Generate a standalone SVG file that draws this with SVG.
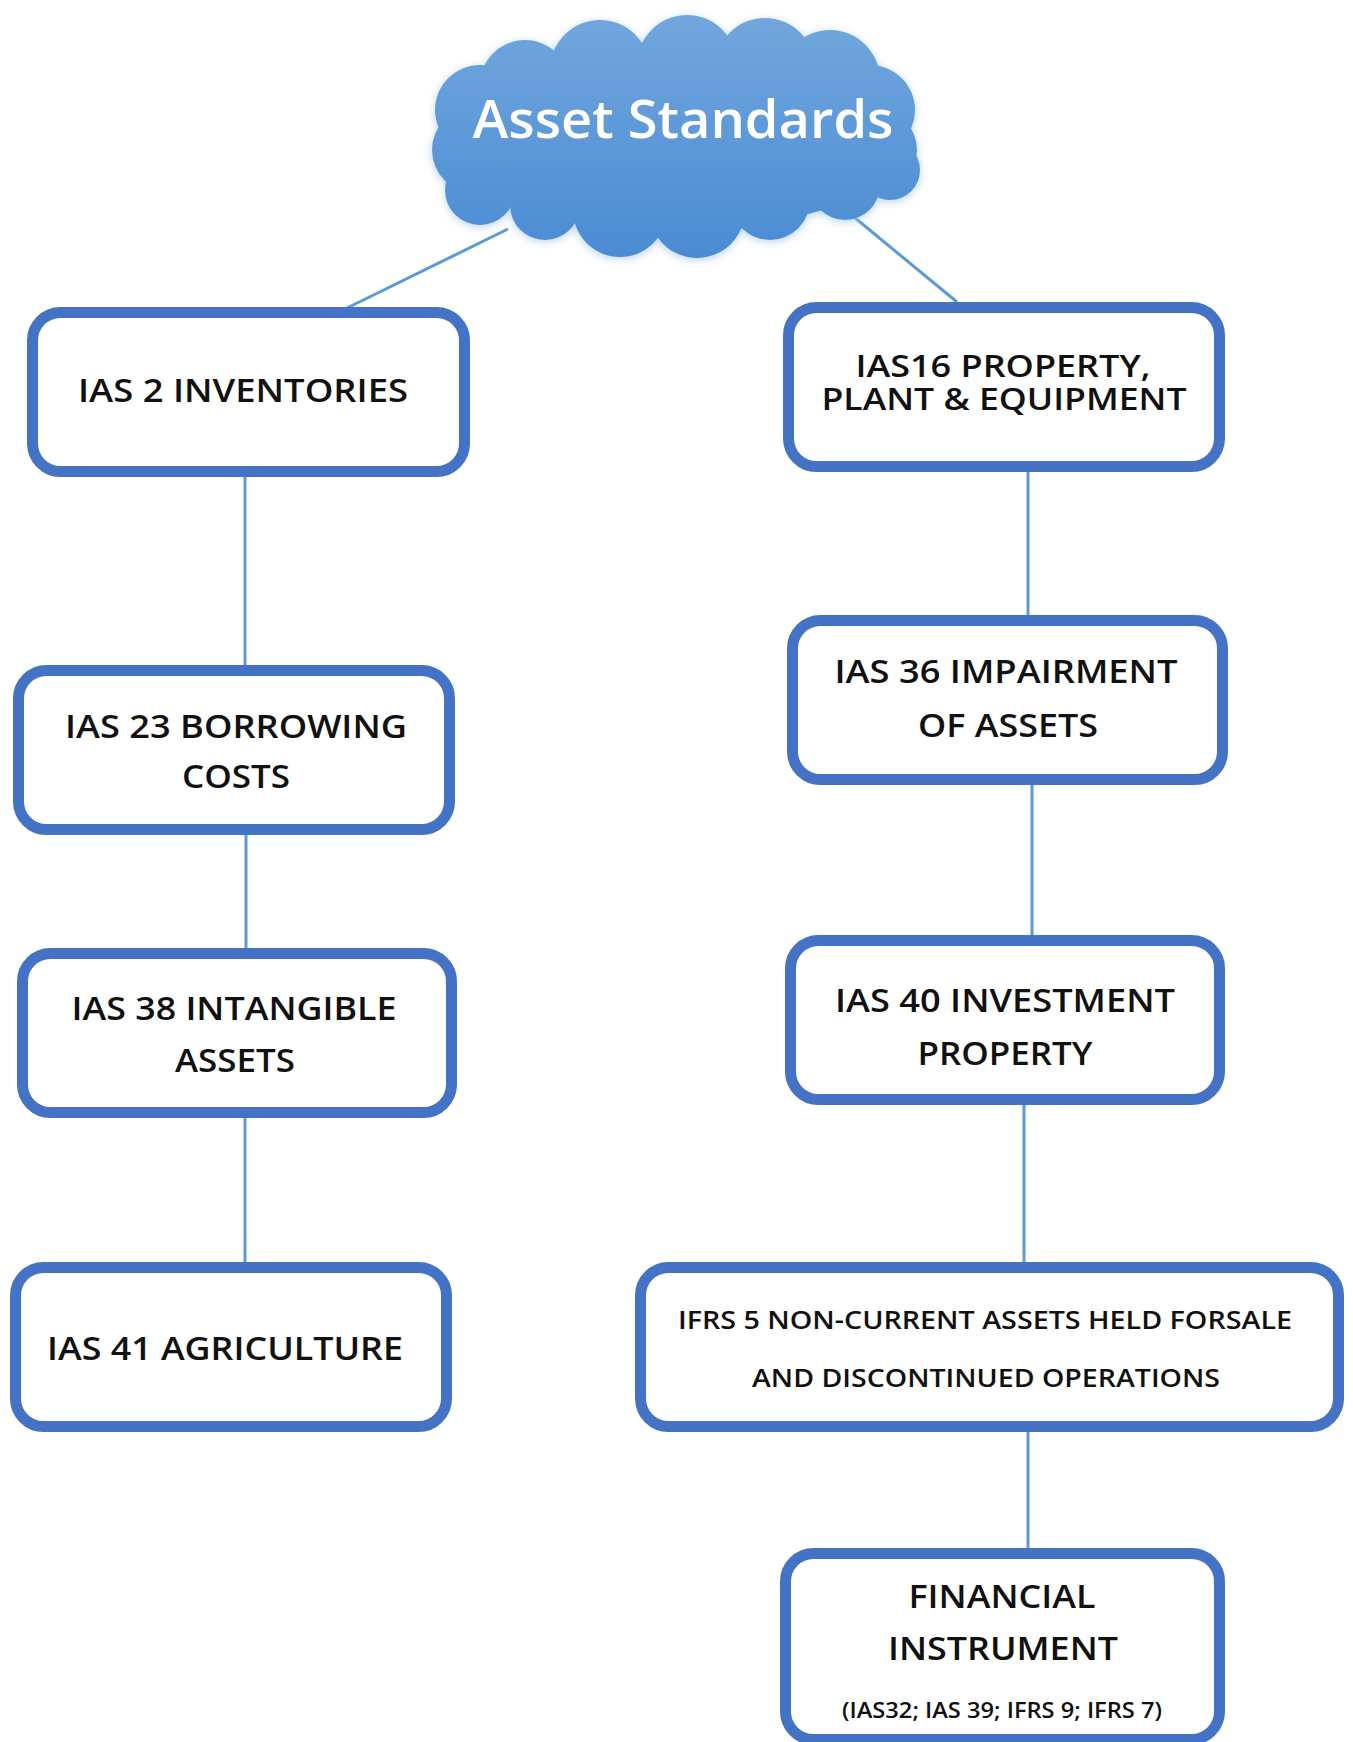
<svg xmlns="http://www.w3.org/2000/svg" width="1353" height="1742" viewBox="0 0 1353 1742">
<style>
.box{fill:#ffffff;stroke:#4472c4;stroke-width:11}
.lbl{font-family:"Open Sans","Liberation Sans",sans-serif;font-weight:600;font-size:33px;fill:#111111;text-anchor:middle}
.tight{font-size:30px}
.sm{font-size:25px}
.xs{font-size:21px}
.con{stroke:#5b9bd5;stroke-width:3;fill:none}
.title{font-family:"Open Sans","Liberation Sans",sans-serif;font-weight:600;font-size:52px;fill:#ffffff;text-anchor:middle}
</style>
<defs>
<linearGradient id="cg" x1="0" y1="14" x2="0" y2="260" gradientUnits="userSpaceOnUse">
<stop offset="0" stop-color="#72a7dd"/>
<stop offset="1" stop-color="#4a8bd3"/>
</linearGradient>
<filter id="glow" x="-10%" y="-10%" width="120%" height="120%">
<feDropShadow dx="0" dy="2" stdDeviation="4" flood-color="#a9c9ec" flood-opacity="0.8"/>
</filter>
</defs>
<rect width="1353" height="1742" fill="#ffffff"/>
<g id="connectors">
<line class="con" x1="508" y1="229" x2="347" y2="308"/>
<line class="con" x1="843" y1="208" x2="957" y2="302"/>
<line class="con" x1="245" y1="477" x2="245" y2="665"/>
<line class="con" x1="246" y1="835" x2="246" y2="948"/>
<line class="con" x1="245" y1="1118" x2="245" y2="1262"/>
<line class="con" x1="1028" y1="472" x2="1028" y2="615"/>
<line class="con" x1="1032" y1="785" x2="1032" y2="935"/>
<line class="con" x1="1024" y1="1105" x2="1024" y2="1262"/>
<line class="con" x1="1028" y1="1432" x2="1028" y2="1548"/>
</g>
<g id="cloud" filter="url(#glow)">
<g fill="url(#cg)">
<ellipse cx="675" cy="140" rx="235" ry="90"/>
<circle cx="525" cy="85" r="45"/>
<circle cx="600" cy="70" r="50"/>
<circle cx="687" cy="65" r="50"/>
<circle cx="765" cy="68" r="50"/>
<circle cx="830" cy="80" r="50"/>
<circle cx="870" cy="110" r="45"/>
<circle cx="480" cy="110" r="45"/>
<circle cx="475" cy="150" r="43"/>
<circle cx="875" cy="150" r="42"/>
<circle cx="480" cy="190" r="35"/>
<circle cx="545" cy="205" r="35"/>
<circle cx="620" cy="210" r="47"/>
<circle cx="697" cy="210" r="48"/>
<circle cx="770" cy="200" r="40"/>
<circle cx="845" cy="185" r="35"/>
<circle cx="890" cy="170" r="30"/>
</g>
<text class="title" x="683" y="138" textLength="421" lengthAdjust="spacingAndGlyphs">Asset Standards</text>
</g>
<g id="n-ias2">
<rect class="box" x="32.5" y="312.5" width="432" height="159" rx="28"/>
<text class="lbl" x="243" y="402" textLength="330" lengthAdjust="spacingAndGlyphs">IAS 2 INVENTORIES</text>
</g>
<g id="n-ias16">
<rect class="box" x="788.5" y="307.5" width="431" height="159" rx="28"/>
<text class="lbl tight" x="1003" y="377" textLength="295" lengthAdjust="spacingAndGlyphs">IAS16 PROPERTY,</text>
<text class="lbl tight" x="1004" y="410" textLength="365" lengthAdjust="spacingAndGlyphs">PLANT &amp; EQUIPMENT</text>
</g>
<g id="n-ias23">
<rect class="box" x="18.5" y="670.5" width="431" height="159" rx="28"/>
<text class="lbl" x="236" y="738" textLength="342" lengthAdjust="spacingAndGlyphs">IAS 23 BORROWING</text>
<text class="lbl" x="236" y="788" textLength="108" lengthAdjust="spacingAndGlyphs">COSTS</text>
</g>
<g id="n-ias36">
<rect class="box" x="792.5" y="620.5" width="430" height="159" rx="28"/>
<text class="lbl" x="1006" y="683" textLength="343" lengthAdjust="spacingAndGlyphs">IAS 36 IMPAIRMENT</text>
<text class="lbl" x="1008" y="737" textLength="180" lengthAdjust="spacingAndGlyphs">OF ASSETS</text>
</g>
<g id="n-ias38">
<rect class="box" x="22.5" y="953.5" width="429" height="159" rx="28"/>
<text class="lbl" x="234" y="1020" textLength="325" lengthAdjust="spacingAndGlyphs">IAS 38 INTANGIBLE</text>
<text class="lbl" x="235" y="1072" textLength="120" lengthAdjust="spacingAndGlyphs">ASSETS</text>
</g>
<g id="n-ias40">
<rect class="box" x="790.5" y="940.5" width="429" height="159" rx="28"/>
<text class="lbl" x="1005" y="1012" textLength="340" lengthAdjust="spacingAndGlyphs">IAS 40 INVESTMENT</text>
<text class="lbl" x="1005" y="1065" textLength="175" lengthAdjust="spacingAndGlyphs">PROPERTY</text>
</g>
<g id="n-ias41">
<rect class="box" x="15.5" y="1267.5" width="431" height="159" rx="28"/>
<text class="lbl" x="225" y="1360" textLength="356" lengthAdjust="spacingAndGlyphs">IAS 41 AGRICULTURE</text>
</g>
<g id="n-ifrs5">
<rect class="box" x="640.5" y="1267.5" width="698" height="159" rx="28"/>
<text class="lbl sm" x="985" y="1329" textLength="614" lengthAdjust="spacingAndGlyphs">IFRS 5 NON-CURRENT ASSETS HELD FORSALE</text>
<text class="lbl sm" x="986" y="1387" textLength="468" lengthAdjust="spacingAndGlyphs">AND DISCONTINUED OPERATIONS</text>
</g>
<g id="n-fin">
<rect class="box" x="785.5" y="1553.5" width="434" height="186" rx="28"/>
<text class="lbl" x="1002" y="1608" textLength="187" lengthAdjust="spacingAndGlyphs">FINANCIAL</text>
<text class="lbl" x="1003" y="1660" textLength="230" lengthAdjust="spacingAndGlyphs">INSTRUMENT</text>
<text class="lbl xs" x="1002" y="1718" textLength="320" lengthAdjust="spacingAndGlyphs">(IAS32; IAS 39; IFRS 9; IFRS 7)</text>
</g>
</svg>
